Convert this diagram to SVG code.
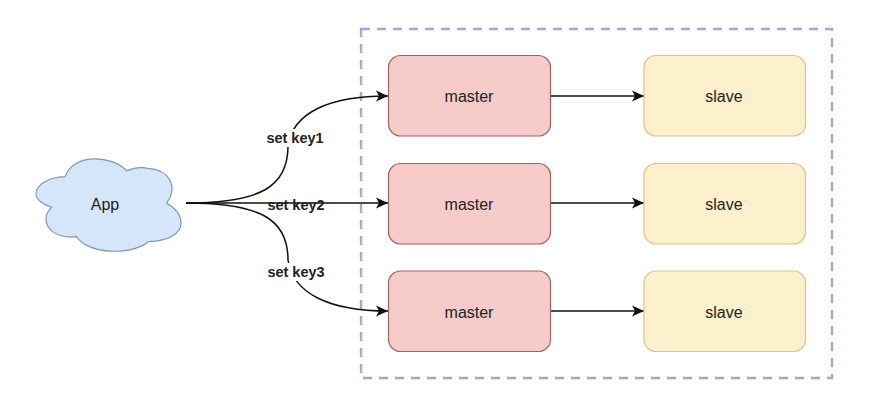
<svg xmlns="http://www.w3.org/2000/svg" width="871" height="401" viewBox="0 0 871 401">
<style>
text{font-family:"Liberation Sans",Arial,sans-serif;font-size:16px;fill:#222;text-anchor:middle}
.m{fill:#f7cbc9;stroke:#a8605c;stroke-width:1.2}
.s{fill:#fdf0cd;stroke:#d8c48a;stroke-width:1.2}
.c{fill:none;stroke:#111;stroke-width:1.5}
.l{font-weight:bold;font-size:14.5px;fill:#222}
</style>
<defs><marker id="a" markerUnits="userSpaceOnUse" markerWidth="13" markerHeight="14" refX="12" refY="7" orient="auto"><path d="M0 1.500L12 7L0 12.500L3 7Z" fill="#111"/></marker></defs>
<rect width="871" height="401" fill="#fff"/>
<rect id="boundary" x="361" y="29" width="471" height="349" fill="none" stroke="#a5a5d6" stroke-width="2.4" stroke-dasharray="9 7"/>
<g id="connectors">
<path class="c" d="M186 203C262 203 288 186 288 146C293 112 330 96 388 96" marker-end="url(#a)"/>
<path class="c" d="M186 203H388" marker-end="url(#a)"/>
<path class="c" d="M186 203C262 203 288 220 288 260C293 294 330 311 388 311" marker-end="url(#a)"/>
<path class="c" d="M550 96H644" marker-end="url(#a)"/>
<path class="c" d="M550 203H644" marker-end="url(#a)"/>
<path class="c" d="M550 311H644" marker-end="url(#a)"/>
<g id="edge-labels">
<rect x="264" y="129" width="62" height="18" fill="#fff"/>
<text class="l" x="295" y="143">set key1</text>
<text class="l" x="296" y="210">set key2</text>
<rect x="264" y="263" width="62" height="18" fill="#fff"/>
<text class="l" x="296" y="277">set key3</text>
</g>
</g>
<g id="app"><path d="M65 176.700C50 177 36 184 36 194C36 200 44 205 51.700 207.300C38 220 50 240 76.700 236.700C86.700 253.300 130 256.700 148.300 241.700C170 241 181 233 181 223C181 215 175 208 166.700 203.300C178.300 186.700 170 170 148.300 168.300C135 166 130 170 126.700 170.700C110 154 73 154 65 176.700Z" fill="#d6e6fa" stroke="#7f97b5" stroke-width="1.2"/><text x="105" y="210">App</text></g>
<g id="master1"><rect class="m" x="388.500" y="55.500" width="162" height="80.500" rx="12"/><text x="469" y="102">master</text></g>
<g id="master2"><rect class="m" x="388.500" y="163.500" width="162" height="80.500" rx="12"/><text x="469" y="210">master</text></g>
<g id="master3"><rect class="m" x="388.500" y="271" width="162" height="80.500" rx="12"/><text x="469" y="318">master</text></g>
<g id="slave1"><rect class="s" x="644" y="55.500" width="161.500" height="80.500" rx="12"/><text x="724" y="102">slave</text></g>
<g id="slave2"><rect class="s" x="644" y="163.500" width="161.500" height="80.500" rx="12"/><text x="724" y="210">slave</text></g>
<g id="slave3"><rect class="s" x="644" y="271" width="161.500" height="80.500" rx="12"/><text x="724" y="318">slave</text></g>
</svg>
